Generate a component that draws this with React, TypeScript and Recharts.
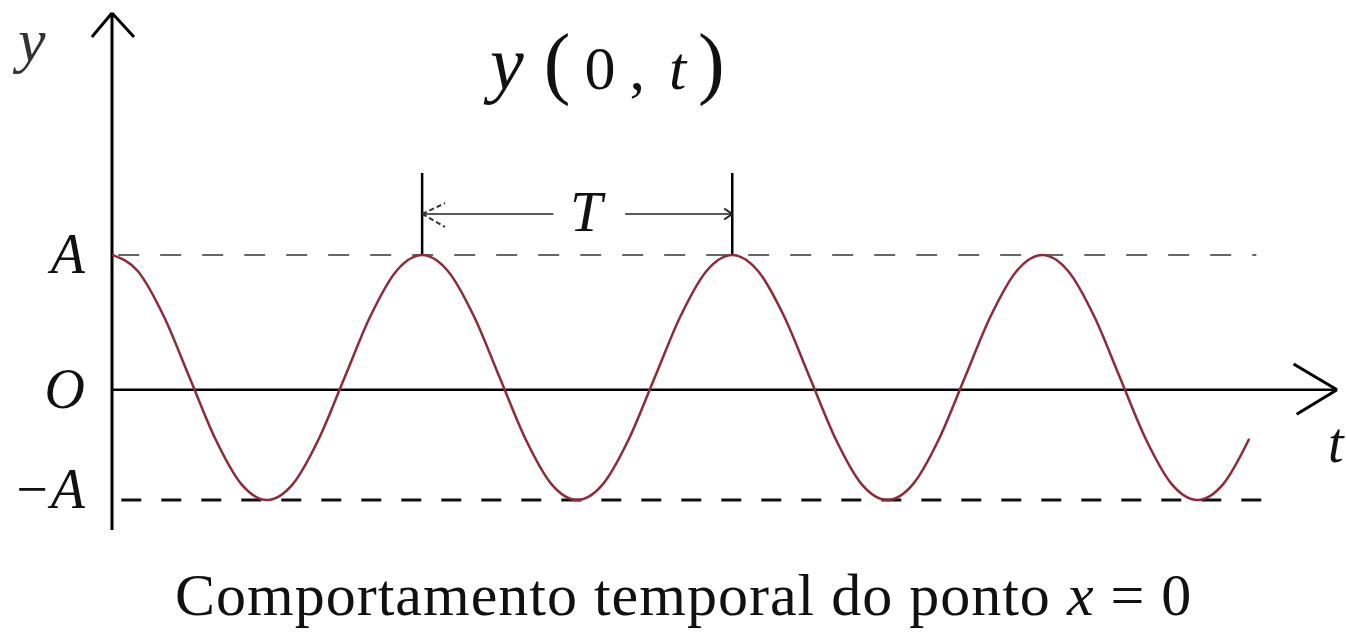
import { Line, LineChart, ReferenceLine, XAxis, YAxis } from "recharts"

// time in periods T (peaks at 0, T, 2T, 3T)
const tValues = [
  0, 0.083, 0.167, 0.25, 0.333, 0.417, 0.5, 0.583, 0.667, 0.75, 0.833, 0.917,
  1, 1.083, 1.167, 1.25, 1.333, 1.417, 1.5, 1.583, 1.667, 1.75, 1.833, 1.917,
  2, 2.083, 2.167, 2.25, 2.333, 2.417, 2.5, 2.583, 2.667, 2.75, 2.833, 2.917,
  3, 3.083, 3.167, 3.25, 3.333, 3.417, 3.5, 3.583, 3.667,
]

// y(0, t) in units of A
const yValues = [
  1, 0.87, 0.5, 0, -0.5, -0.87, -1, -0.87, -0.5, 0, 0.5, 0.87,
  1, 0.87, 0.5, 0, -0.5, -0.87, -1, -0.87, -0.5, 0, 0.5, 0.87,
  1, 0.87, 0.5, 0, -0.5, -0.87, -1, -0.87, -0.5, 0, 0.5, 0.87,
  1, 0.87, 0.5, 0, -0.5, -0.87, -1, -0.87, -0.5,
]

const yTicks = [1, -0.1, -1]
const yTickLabels = ["A", "O", "\u2212A"]

const axisLevel = -0.1
const xMax = 3.95
const yMin = -1.245
const yMax = 2.976

const data = tValues.map((t, i) => ({ t, y: yValues[i] }))

const serif = "'Liberation Serif', 'Times New Roman', serif"

function YTick(props: any) {
  const { y, payload } = props
  const idx = yTicks.indexOf(payload.value)
  const shift = payload.value === -1 ? -10 : 0
  return (
    <text
      x={85}
      y={y + 18 + shift}
      textAnchor="end"
      fontFamily={serif}
      fontStyle="italic"
      fontSize={56}
      fill="#111"
    >
      {yTickLabels[idx]}
    </text>
  )
}

export default function App() {
  const overflow = "visible" as const
  return (
    <div style={{ position: "absolute", left: 0, top: 0, width: 1346, height: 632, background: "#fff" }}>
      <LineChart width={1346} height={632} data={data} margin={{ top: 13, right: 9, bottom: 102, left: 0 }}>
        <XAxis type="number" dataKey="t" domain={[0, xMax]} allowDataOverflow hide />
        <YAxis
          type="number"
          domain={[yMin, yMax]}
          allowDataOverflow
          ticks={yTicks}
          interval={0}
          width={112}
          axisLine={false}
          tickLine={false}
          tick={<YTick />}
        />

        {/* A and -A levels */}
        <ReferenceLine
          segment={[{ x: 0.02, y: 1 }, { x: 3.69, y: 1 }]}
          stroke="#666"
          strokeWidth={2}
          strokeDasharray="21 21"
          ifOverflow={overflow}
        />
        <ReferenceLine
          segment={[{ x: 0.03, y: -1 }, { x: 3.73, y: -1 }]}
          stroke="#111"
          strokeWidth={3}
          strokeDasharray="20 20"
          ifOverflow={overflow}
        />

        {/* t axis with arrow */}
        <ReferenceLine segment={[{ x: 0, y: axisLevel }, { x: xMax, y: axisLevel }]} stroke="#000" strokeWidth={2.5} ifOverflow={overflow} />
        <ReferenceLine segment={[{ x: 3.81, y: 0.11 }, { x: xMax, y: axisLevel }]} stroke="#000" strokeWidth={3} ifOverflow={overflow} />
        <ReferenceLine segment={[{ x: 3.82, y: -0.3 }, { x: xMax, y: axisLevel }]} stroke="#000" strokeWidth={3} ifOverflow={overflow} />

        {/* y axis with arrow */}
        <ReferenceLine segment={[{ x: 0, y: yMin }, { x: 0, y: yMax }]} stroke="#000" strokeWidth={3} ifOverflow={overflow} />
        <ReferenceLine segment={[{ x: -0.065, y: 2.78 }, { x: 0, y: yMax }]} stroke="#000" strokeWidth={3} ifOverflow={overflow} />
        <ReferenceLine segment={[{ x: 0.071, y: 2.78 }, { x: 0, y: yMax }]} stroke="#000" strokeWidth={3} ifOverflow={overflow} />

        {/* period marker */}
        <ReferenceLine segment={[{ x: 1, y: 1 }, { x: 1, y: 1.67 }]} stroke="#000" strokeWidth={2.5} ifOverflow={overflow} />
        <ReferenceLine segment={[{ x: 2, y: 1 }, { x: 2, y: 1.67 }]} stroke="#000" strokeWidth={2.5} ifOverflow={overflow} />
        <ReferenceLine segment={[{ x: 1, y: 1.335 }, { x: 1.423, y: 1.335 }]} stroke="#222" strokeWidth={1.5} ifOverflow={overflow} />
        <ReferenceLine segment={[{ x: 1.655, y: 1.335 }, { x: 2, y: 1.335 }]} stroke="#222" strokeWidth={1.5} ifOverflow={overflow} />
        <ReferenceLine segment={[{ x: 1, y: 1.335 }, { x: 1.074, y: 1.424 }]} stroke="#333" strokeWidth={2} strokeDasharray="5 3" ifOverflow={overflow} />
        <ReferenceLine segment={[{ x: 1, y: 1.335 }, { x: 1.074, y: 1.229 }]} stroke="#333" strokeWidth={2} strokeDasharray="5 3" ifOverflow={overflow} />
        <ReferenceLine segment={[{ x: 1.974, y: 1.38 }, { x: 2, y: 1.335 }]} stroke="#222" strokeWidth={2} ifOverflow={overflow} />
        <ReferenceLine segment={[{ x: 1.974, y: 1.29 }, { x: 2, y: 1.335 }]} stroke="#222" strokeWidth={2} ifOverflow={overflow} />

        <Line
          type="monotone"
          dataKey="y"
          stroke="#8c2b3a"
          strokeWidth={2.5}
          dot={false}
          activeDot={false}
          isAnimationActive={false}
        />
      </LineChart>

      <div style={{ position: "absolute", left: 18, top: 9, fontFamily: serif, fontStyle: "italic", fontSize: 62, lineHeight: 1, color: "#333" }}>
        y
      </div>

      <div
        style={{
          position: "absolute",
          left: 490,
          top: 22,
          display: "flex",
          alignItems: "baseline",
          fontFamily: serif,
          fontSize: 62,
          lineHeight: 1,
          color: "#111",
          whiteSpace: "nowrap",
        }}
      >
        <i style={{ fontSize: 76 }}>y</i>
        <span style={{ fontSize: 80, marginLeft: 20, marginRight: 14 }}>(</span>
        <span>0</span>
        <span style={{ marginLeft: 14, marginRight: 24 }}>,</span>
        <i>t</i>
        <span style={{ fontSize: 80, marginLeft: 12 }}>)</span>
      </div>

      <div style={{ position: "absolute", left: 570, top: 183, fontFamily: serif, fontStyle: "italic", fontSize: 58, lineHeight: 1, color: "#111" }}>
        T
      </div>

      <div style={{ position: "absolute", left: 1328, top: 415, fontFamily: serif, fontStyle: "italic", fontSize: 56, lineHeight: 1, color: "#111" }}>
        t
      </div>

      <div
        style={{
          position: "absolute",
          left: 175,
          top: 565,
          fontFamily: serif,
          fontSize: 60,
          lineHeight: 1,
          letterSpacing: 1,
          color: "#111",
          whiteSpace: "nowrap",
        }}
      >
        Comportamento temporal do ponto <i>x</i> = 0
      </div>
    </div>
  )
}
